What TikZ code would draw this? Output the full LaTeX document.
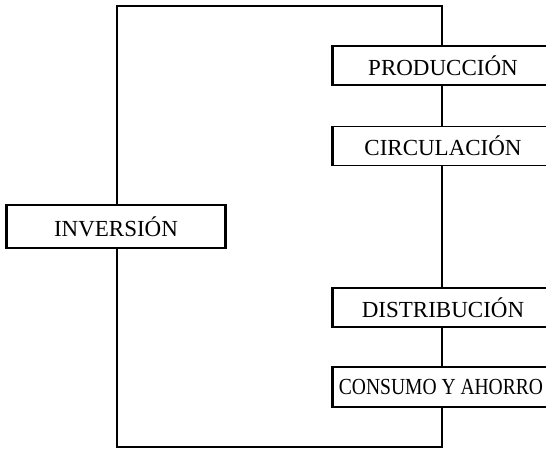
\documentclass[tikz,border=0pt]{standalone}
\usepackage{fontspec}
\setmainfont{Liberation Serif}
\begin{document}
\begin{tikzpicture}[x=1pt,y=1pt,
  stagebox/.style={draw, line width=1.3pt, fill=white, inner sep=0pt,
    minimum height=39pt, font=\fontsize{23}{26}\selectfont},
  rightbox/.style={stagebox, minimum width=220pt},
  conn/.style={line width=1.1pt}]
\useasboundingbox (0,0) rectangle (546,-450);
\clip (0,0) rectangle (546,-450);
% nodes
\node[stagebox, minimum width=218pt, minimum height=43pt] (inv) at (116,-226.5) {INVERSIÓN};
\node[rightbox] (prod) at (443,-65.5) {PRODUCCIÓN};
\node[rightbox] (circ) at (443,-146) {CIRCULACIÓN};
\node[rightbox] (dist) at (443,-307.5) {DISTRIBUCIÓN};
\node[rightbox, minimum height=40pt] (cons) at (443,-387) {\hspace*{-4pt}\scalebox{0.85}[1]{CONSUMO Y AHORRO}};
% corner points of the loop
\coordinate (tl) at (117,-6);
\coordinate (tr) at (442,-6);
\coordinate (bl) at (117,-447);
\coordinate (br) at (442,-447);
% connectors
\draw[conn] (inv.north -| tl) -- (tl) -- (tr) -- (prod.north -| tr);
\draw[conn] (prod.south -| tr) -- (circ.north -| tr);
\draw[conn] (circ.south -| tr) -- (dist.north -| tr);
\draw[conn] (dist.south -| tr) -- (cons.north -| tr);
\draw[conn] (cons.south -| br) -- (br) -- (bl) -- (inv.south -| bl);
% thicker left edges of the boxes
\foreach \n in {inv,prod,circ,dist,cons}{
  \draw[line width=2.4pt] (\n.south west) -- (\n.north west);
}
\draw[line width=2.4pt] (inv.south east) -- (inv.north east);
\end{tikzpicture}
\end{document}
